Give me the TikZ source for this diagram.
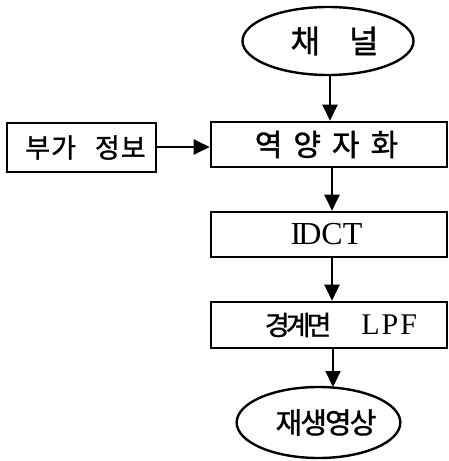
\documentclass[tikz,border=0pt]{standalone}
\usepackage{fontspec}
\setmainfont{Liberation Serif}
\newfontfamily\kr{Noto Sans CJK KR}[FakeBold=1.2]
\usetikzlibrary{shapes.geometric,arrows.meta}
\begin{document}
\begin{tikzpicture}[x=1pt,y=-1pt,
  box/.style={draw, line width=2.6pt, rectangle, inner sep=0pt},
  oval/.style={draw, line width=2.4pt, ellipse, inner sep=0pt},
  arr/.style={line width=2.2pt, -{Triangle[length=16pt,width=15pt]}},
  kt/.style={font=\kr\fontsize{32}{32}\selectfont},
  kq/.style={font=\kr\fontsize{30}{30}\selectfont},
  kts/.style={font=\kr\fontsize{27}{27}\selectfont},
  ko/.style={font=\kr\fontsize{29}{29}\selectfont},
  et/.style={font=\fontsize{32}{32}\selectfont}]
\useasboundingbox (0,0) rectangle (449,461);
\node[oval, minimum width=171pt, minimum height=68pt, kt] (ch) at (328,41) {\hspace*{13pt}채\hspace{29pt}널};
\node[box, minimum width=236pt, minimum height=45pt, kq] (dq) at (329,144.5) {\raisebox{-3pt}{역\hspace{11pt}양\hspace{11pt}자\hspace{11pt}화}\hspace*{5pt}};
\node[box, minimum width=149pt, minimum height=49pt, kts] (side) at (81.5,147.5) {\hspace*{8pt}부\hspace{1pt}가\hspace{19pt}정\hspace{1pt}보};
\node[box, minimum width=236pt, minimum height=45pt, et] (idct) at (329,234.5) {\raisebox{-2pt}{I\kern-3ptDCT}\hspace*{5pt}};
\node[box, minimum width=236pt, minimum height=46pt] (lpf) at (329,325) {\hspace*{24pt}\raisebox{-1pt}{\kr\fontsize{27}{27}\selectfont 경\hspace{-4pt}계\hspace{-4pt}면}\hspace{30pt}{\fontsize{30}{30}\selectfont L\hspace{2pt}P\hspace{2pt}F}};
\node[oval, minimum width=147pt, minimum height=71pt, ko] (out) at (318.5,422.5) {\hspace*{15pt}재\hspace{-2pt}생\hspace{-2pt}영\hspace{-2pt}상};
\draw[arr] ([xshift=2pt]ch.south) -- ([xshift=2pt]ch.south |- dq.north);
\draw[arr] (side.east |- 0,147) -- (dq.west |- 0,147);
\draw[arr] ([xshift=3pt]dq.south) -- ([xshift=3pt]dq.south |- idct.north);
\draw[arr] ([xshift=3pt]idct.south) -- ([xshift=3pt]idct.south |- lpf.north);
\coordinate (tip) at ([xshift=4pt]lpf.south |- 0,387);
\draw[arr] ([xshift=4pt]lpf.south) -- (tip);
\end{tikzpicture}
\end{document}
